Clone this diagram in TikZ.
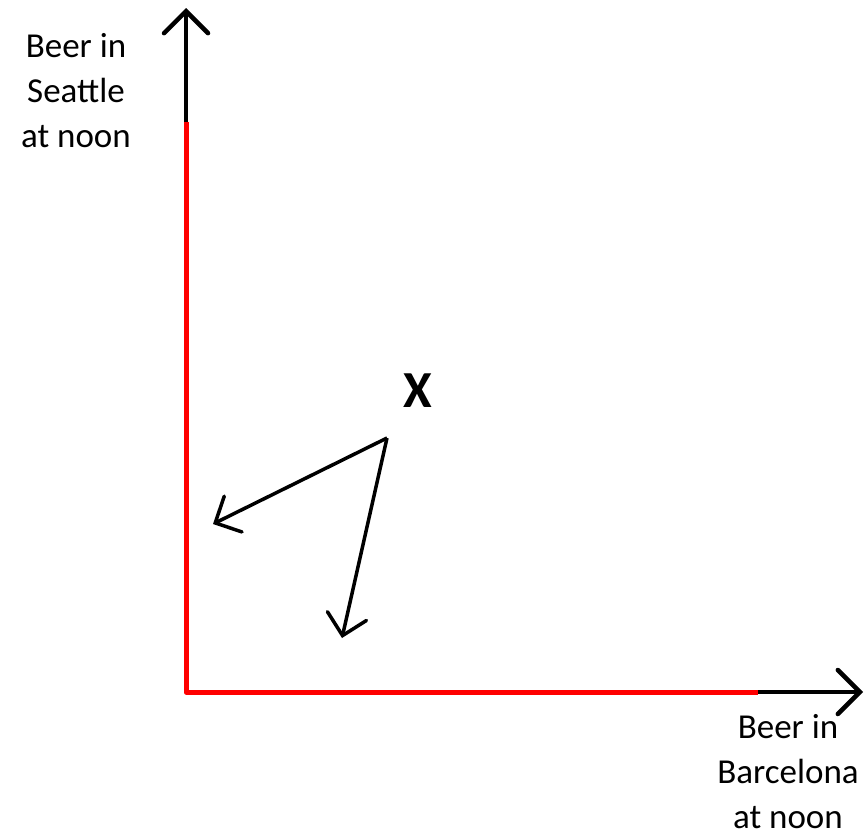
\documentclass[tikz,border=0pt]{standalone}
\usepackage{fontspec}
\setmainfont{Carlito}
\usetikzlibrary{arrows.meta}
\begin{document}
\begin{tikzpicture}[x=1pt,y=1pt,
  axis/.style={line width=4.5pt},
  redaxis/.style={line width=5pt,red,line join=round},
  axisarrow/.style={-{Straight Barb[length=22pt,width=44pt,line cap=round]}},
  vecarrow/.style={line width=3.5pt,-{Straight Barb[length=20pt,width=40pt,line cap=round]}},
  lbl/.style={font=\fontsize{35}{45}\selectfont,align=center,inner sep=0pt}]
\useasboundingbox (0,0) rectangle (864,-838);
\coordinate (O) at (186,-692);
\coordinate (ytop) at (186,-8);
\coordinate (yred) at (186,-122);
\coordinate (xend) at (863,-692);
\coordinate (xred) at (758,-692);
\coordinate (S) at (387,-438);
\coordinate (A) at (213,-524);
\coordinate (B) at (342,-638);
\draw[axis,axisarrow] (yred) -- (ytop);
\draw[axis,axisarrow] (xred) -- (xend);
\draw[redaxis] (yred) -- (O) -- (xred);
\draw[vecarrow] (S) -- (A);
\draw[vecarrow] (S) -- (B);
\node[lbl,anchor=base] (ylab) at (76,-147) {Beer in\\Seattle\\at noon};
\node[lbl,anchor=base] (xlab) at (788,-828) {Beer in\\Barcelona\\at noon};
\node[font=\bfseries\fontsize{52}{60}\selectfont,inner sep=0pt] (xx) at (418,-391) {X};
\end{tikzpicture}
\end{document}
